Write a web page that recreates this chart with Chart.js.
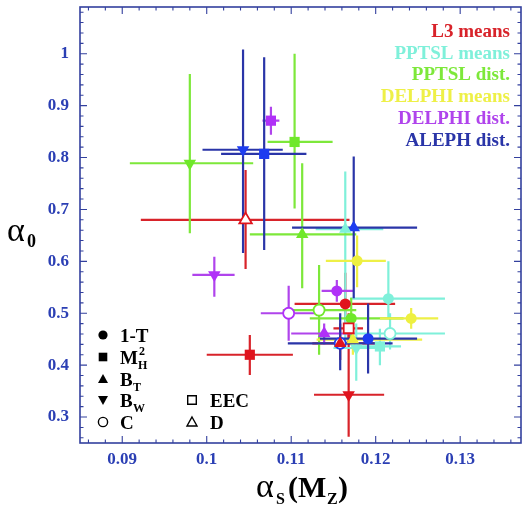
<!DOCTYPE html>
<html>
<head>
<meta charset="utf-8">
<script src="https://cdn.jsdelivr.net/npm/chart.js@4/dist/chart.umd.min.js"></script>
<style>
html,body{margin:0;padding:0;background:#fff;}
#wrap{width:522px;height:505px;position:relative;}
</style>
</head>
<body>
<div id="wrap"><canvas id="c" width="522" height="505"></canvas></div>
<script>
// ---- tick labels ----
const xTicks = [0.09, 0.1, 0.11, 0.12, 0.13];
const yTicks = [0.3, 0.4, 0.5, 0.6, 0.7, 0.8, 0.9, 1];

// ---- series: L3 means ----
const l3Shape = ['1-T', 'MH', 'BW', 'D', 'BT', 'EEC'];
const l3X   = [0.1164, 0.1051, 0.1168, 0.1046, 0.1158, 0.1168];
const l3Y   = [0.518, 0.420, 0.343, 0.680, 0.442, 0.471];
const l3XLo = [0.1104, 0.1000, 0.1127, 0.0922, 0.1125, 0.1150];
const l3XHi = [0.1223, 0.1102, 0.1210, 0.1169, 0.1205, 0.1185];
const l3YLo = [0.460, 0.381, 0.262, 0.585, 0.410, 0.445];
const l3YHi = [0.578, 0.458, 0.461, 0.776, 0.480, 0.500];

// ---- PPTSL means ----
const ppmShape = ['1-T', 'C', 'BT', 'BW', 'MH'];
const ppmX   = [0.1215, 0.1217, 0.1164, 0.1177, 0.1205];
const ppmY   = [0.528, 0.461, 0.662, 0.433, 0.436];
const ppmXLo = [0.1170, 0.1170, 0.1129, 0.1150, 0.1180];
const ppmXHi = [0.1282, 0.1282, 0.1209, 0.1205, 0.1230];
const ppmYLo = [0.490, 0.430, 0.436, 0.370, 0.400];
const ppmYHi = [0.600, 0.500, 0.773, 0.480, 0.470];

// ---- PPTSL dist. ----
const ppdShape = ['BW', 'MH', 'BT', 'C', '1-T'];
const ppdX   = [0.0980, 0.1104, 0.1113, 0.1133, 0.1171];
const ppdY   = [0.789, 0.830, 0.652, 0.506, 0.490];
const ppdXLo = [0.0909, 0.1072, 0.1051, 0.1090, 0.1122];
const ppdXHi = [0.1055, 0.1149, 0.1177, 0.1177, 0.1233];
const ppdYLo = [0.654, 0.702, 0.548, 0.420, 0.450];
const ppdYHi = [0.961, 1.000, 0.789, 0.593, 0.530];

// ---- DELPHI means ----
const dmShape = ['1-T', '1-T', 'BT'];
const dmX   = [0.1178, 0.1242, 0.1173];
const dmY   = [0.601, 0.490, 0.449];
const dmXLo = [0.1141, 0.1205, 0.1130];
const dmXHi = [0.1212, 0.1274, 0.1255];
const dmYLo = [0.550, 0.470, 0.420];
const dmYHi = [0.650, 0.510, 0.480];

// ---- DELPHI dist. ----
const ddShape = ['MH', 'BW', '1-T', 'C', 'BT'];
const ddX   = [0.1076, 0.1009, 0.1154, 0.1097, 0.1139];
const ddY   = [0.871, 0.574, 0.543, 0.500, 0.461];
const ddXLo = [0.1066, 0.0983, 0.1136, 0.1064, 0.1100];
const ddXHi = [0.1086, 0.1033, 0.1174, 0.1133, 0.1175];
const ddYLo = [0.844, 0.532, 0.522, 0.447, 0.440];
const ddYHi = [0.898, 0.609, 0.564, 0.553, 0.480];

// ---- ALEPH dist. ----
const alShape = ['BW', 'MH', 'BT', '1-T', 'C'];
const alX   = [0.1043, 0.1068, 0.1174, 0.1191, 0.1158];
const alY   = [0.815, 0.807, 0.665, 0.451, 0.442];
const alXLo = [0.0995, 0.1017, 0.1101, 0.1134, 0.1096];
const alXHi = [0.1090, 0.1118, 0.1249, 0.1249, 0.1220];
const alYLo = [0.616, 0.622, 0.529, 0.384, 0.390];
const alYHi = [1.008, 0.993, 0.802, 0.519, 0.500];

const seriesNames = ['L3 means', 'PPTSL means', 'PPTSL dist.', 'DELPHI means', 'DELPHI dist.', 'ALEPH dist.'];

const seriesColor = ['#d8232a', '#7ff0da', '#7de83a', '#eef047', '#b044ec', '#2a35a8'];
const markerColor = ['#e0141e', '#7ff0da', '#6fe82a', '#eef040', '#b030f8', '#1d3cf0'];

const shapeDef = {
  '1-T': {style: 'circle', rot: 0, open: false, r: 5.5},
  'MH':  {style: 'rect', rot: 0, open: false, r: 7.2},
  'BT':  {style: 'triangle', rot: 0, open: false, r: 7.2},
  'BW':  {style: 'triangle', rot: 180, open: false, r: 7.2},
  'C':   {style: 'circle', rot: 0, open: true, r: 5.5},
  'EEC': {style: 'rect', rot: 0, open: true, r: 7},
  'D':   {style: 'triangle', rot: 0, open: true, r: 7.2}
};

function mk(i, sh, X, Y, XLo, XHi, YLo, YHi) {
  return {
    label: seriesNames[i],
    data: X.map((x, k) => ({x: x, y: Y[k]})),
    err: {xlo: XLo, xhi: XHi, ylo: YLo, yhi: YHi},
    lineColor: seriesColor[i],
    pointStyle: sh.map(s => shapeDef[s].style),
    rotation: sh.map(s => shapeDef[s].rot),
    pointRadius: sh.map(s => shapeDef[s].r),
    pointHoverRadius: sh.map(s => shapeDef[s].r),
    backgroundColor: sh.map(s => shapeDef[s].open ? '#ffffff' : markerColor[i]),
    borderColor: markerColor[i],
    borderWidth: sh.map(s => shapeDef[s].open ? 1.8 : 0),
    showLine: false
  };
}

const datasets = [
  mk(0, l3Shape, l3X, l3Y, l3XLo, l3XHi, l3YLo, l3YHi),
  mk(1, ppmShape, ppmX, ppmY, ppmXLo, ppmXHi, ppmYLo, ppmYHi),
  mk(2, ppdShape, ppdX, ppdY, ppdXLo, ppdXHi, ppdYLo, ppdYHi),
  mk(3, dmShape, dmX, dmY, dmXLo, dmXHi, dmYLo, dmYHi),
  mk(4, ddShape, ddX, ddY, ddXLo, ddXHi, ddYLo, ddYHi),
  mk(5, alShape, alX, alY, alXLo, alXHi, alYLo, alYHi)
];
datasets.forEach((d, i) => d.order = i);

const FRAME = '#33409e';
const TICKC = '#2b3fb4';
const SERIF = '"Liberation Serif", "DejaVu Serif", serif';

const errPlugin = {
  id: 'errbars',
  beforeDatasetsDraw(chart) {
    const ctx = chart.ctx, xs = chart.scales.x, ys = chart.scales.y, a = chart.chartArea;
    ctx.save();
    ctx.beginPath(); ctx.rect(a.left, a.top, a.right - a.left, a.bottom - a.top); ctx.clip();
    ctx.lineWidth = 2.2;
    ctx.lineCap = 'butt';
    chart.data.datasets.forEach(ds => {
      ctx.strokeStyle = ds.lineColor;
      ds.data.forEach((p, k) => {
        const px = xs.getPixelForValue(p.x), py = ys.getPixelForValue(p.y);
        ctx.beginPath();
        ctx.moveTo(xs.getPixelForValue(ds.err.xlo[k]), py);
        ctx.lineTo(xs.getPixelForValue(ds.err.xhi[k]), py);
        ctx.moveTo(px, ys.getPixelForValue(ds.err.ylo[k]));
        ctx.lineTo(px, ys.getPixelForValue(ds.err.yhi[k]));
        ctx.stroke();
      });
    });
    ctx.restore();
  }
};

function drawMarker(ctx, key, x, y) {
  const d = shapeDef[key];
  ctx.save();
  ctx.fillStyle = '#000'; ctx.strokeStyle = '#000'; ctx.lineWidth = 1.4;
  ctx.beginPath();
  if (d.style === 'circle') {
    ctx.arc(x, y, 4.6, 0, Math.PI * 2);
  } else if (d.style === 'rect') {
    ctx.rect(x - 4.3, y - 4.3, 8.6, 8.6);
  } else {
    const s = d.rot ? -1 : 1;
    ctx.moveTo(x, y - 5 * s); ctx.lineTo(x + 5, y + 4 * s); ctx.lineTo(x - 5, y + 4 * s); ctx.closePath();
  }
  if (d.open) ctx.stroke(); else ctx.fill();
  ctx.restore();
}

const decoPlugin = {
  id: 'deco',
  afterDraw(chart) {
    const ctx = chart.ctx, xs = chart.scales.x, ys = chart.scales.y, a = chart.chartArea;
    ctx.save();
    ctx.strokeStyle = FRAME; ctx.lineWidth = 1.6;
    ctx.strokeRect(a.left, a.top, a.right - a.left, a.bottom - a.top);
    ctx.lineWidth = 1.1;
    ctx.beginPath();
    for (let v = 0.086; v <= xs.max + 1e-9; v += 0.002) {
      const vv = Math.round(v * 1000) / 1000;
      const major = Math.abs(vv * 100 - Math.round(vv * 100)) < 1e-6;
      const L = major ? 7 : 3.5;
      const px = xs.getPixelForValue(vv);
      ctx.moveTo(px, a.bottom); ctx.lineTo(px, a.bottom - L);
      ctx.moveTo(px, a.top); ctx.lineTo(px, a.top + L);
    }
    for (let v = 0.26; v <= ys.max + 1e-9; v += 0.02) {
      const vv = Math.round(v * 100) / 100;
      const major = Math.abs(vv * 10 - Math.round(vv * 10)) < 1e-6;
      const L = major ? 7 : 3.5;
      const py = ys.getPixelForValue(vv);
      ctx.moveTo(a.left, py); ctx.lineTo(a.left + L, py);
      ctx.moveTo(a.right, py); ctx.lineTo(a.right - L, py);
    }
    ctx.stroke();

    ctx.textAlign = 'right'; ctx.textBaseline = 'alphabetic';
    ctx.font = 'bold 19px ' + SERIF;
    seriesNames.forEach((n, i) => {
      ctx.fillStyle = seriesColor[i];
      ctx.fillText(n, 510, 37 + i * 21.7);
    });

    ctx.textAlign = 'left';
    const rows = [['1-T', 103, 335], ['MH', 103, 357], ['BT', 103, 379], ['BW', 103, 400], ['C', 103, 422], ['EEC', 192, 400], ['D', 192, 422]];
    rows.forEach(r => drawMarker(ctx, r[0], r[1], r[2]));
    ctx.fillStyle = '#000';
    ctx.font = 'bold 19px ' + SERIF;
    ctx.fillText('1-T', 120, 342);
    ctx.fillText('M', 120, 364);
    ctx.fillText('B', 120, 386);
    ctx.fillText('B', 120, 407);
    ctx.fillText('C', 120, 429);
    ctx.fillText('EEC', 210, 407);
    ctx.fillText('D', 210, 429);
    ctx.font = 'bold 12px ' + SERIF;
    ctx.fillText('2', 139, 355);
    ctx.fillText('H', 138, 369);
    ctx.fillText('T', 133, 391);
    ctx.fillText('W', 133, 412);

    ctx.fillStyle = '#000';
    ctx.font = '34px ' + SERIF;
    ctx.fillText('\u03b1', 7, 241);
    ctx.font = 'bold 18px ' + SERIF;
    ctx.fillText('0', 27, 247);
    ctx.font = '34px ' + SERIF;
    ctx.fillText('\u03b1', 256, 497);
    ctx.font = 'bold 16px ' + SERIF;
    ctx.fillText('S', 276, 504);
    ctx.font = 'bold 30px ' + SERIF;
    ctx.fillText('(M', 288, 497);
    ctx.font = 'bold 16px ' + SERIF;
    ctx.fillText('Z', 327, 504);
    ctx.font = 'bold 30px ' + SERIF;
    ctx.fillText(')', 338, 497);
    ctx.restore();
  }
};

function zeroPad(s) { s.paddingTop = 0; s.paddingBottom = 0; s.paddingLeft = 0; s.paddingRight = 0; }

new Chart(document.getElementById('c'), {
  type: 'scatter',
  data: {datasets: datasets},
  options: {
    responsive: false,
    animation: false,
    events: [],
    layout: {autoPadding: false, padding: {top: 7, right: 1, left: 0, bottom: 0}},
    plugins: {legend: {display: false}, tooltip: {enabled: false}},
    scales: {
      x: {
        type: 'linear', min: 0.085, max: 0.1372,
        grid: {display: false, drawTicks: false},
        border: {display: false},
        afterBuildTicks: s => { s.ticks = xTicks.map(v => ({value: v})); },
        afterFit: s => { s.height = 62; zeroPad(s); },
        ticks: {color: TICKC, font: {family: SERIF, size: 17, weight: 'bold'}, padding: 6,
                maxRotation: 0, autoSkip: false, callback: v => String(v)}
      },
      y: {
        type: 'linear', min: 0.25, max: 1.09,
        grid: {display: false, drawTicks: false},
        border: {display: false},
        afterBuildTicks: s => { s.ticks = yTicks.map(v => ({value: v})); },
        afterFit: s => { s.width = 80; zeroPad(s); },
        ticks: {color: TICKC, font: {family: SERIF, size: 17, weight: 'bold'}, padding: 11,
                autoSkip: false, callback: v => String(v)}
      }
    }
  },
  plugins: [errPlugin, decoPlugin]
});
</script>
</body>
</html>
